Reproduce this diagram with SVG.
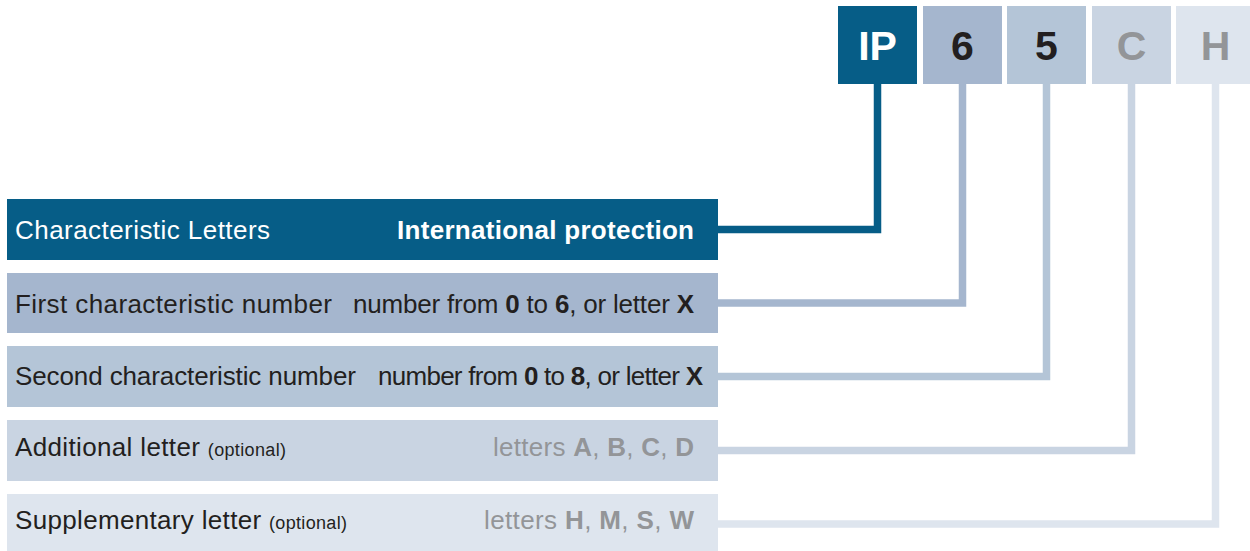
<svg xmlns="http://www.w3.org/2000/svg" width="1250" height="551" viewBox="0 0 1250 551">
<style>
text{font-family:"Liberation Sans",Arial,Helvetica,sans-serif}
.lbl{font-size:26px}
.b{font-weight:bold}
.opt{font-size:18px}
.code{font-size:41px;font-weight:bold;text-anchor:middle}
.r{text-anchor:end}
.dk{fill:#231f20}
.gy{fill:#939598}
.wh{fill:#ffffff}
.c1{fill:#065d87}.c2{fill:#a5b6ce}.c3{fill:#b4c5d7}.c4{fill:#c9d4e2}.c5{fill:#dee5ee}
.ln{fill:none;stroke-width:7.5;stroke-linejoin:miter}
</style>
<rect width="1250" height="551" fill="#ffffff"/>
<g id="connectors">
<path class="ln" stroke="#065d87" d="M718,229.5 H877.5 V84"/>
<path class="ln" stroke="#a5b6ce" d="M718,303 H962.5 V84"/>
<path class="ln" stroke="#b4c5d7" d="M718,376.5 H1046.5 V84"/>
<path class="ln" stroke="#c9d4e2" d="M718,450.5 H1131.5 V84"/>
<path class="ln" stroke="#dee5ee" d="M718,524 H1215.5 V84"/>
</g>
<g id="code-IP"><rect class="c1" x="838" y="6" width="79" height="78"/><text class="code wh" x="877.5" y="60">IP</text></g>
<g id="code-6"><rect class="c2" x="923" y="6" width="79" height="78"/><text class="code dk" x="962.5" y="60">6</text></g>
<g id="code-5"><rect class="c3" x="1007" y="6" width="79" height="78"/><text class="code dk" x="1046.5" y="60">5</text></g>
<g id="code-C"><rect class="c4" x="1092" y="6" width="79" height="78"/><text class="code gy" x="1131.5" y="60">C</text></g>
<g id="code-H"><rect class="c5" x="1176" y="6" width="79" height="78"/><text class="code gy" x="1215.5" y="60">H</text></g>
<g id="row-1"><rect class="c1" x="7" y="199" width="711" height="61"/>
<text class="lbl wh" x="15" y="239" textLength="255" lengthAdjust="spacing">Characteristic Letters</text>
<text class="lbl wh b r" x="694" y="239" textLength="297" lengthAdjust="spacing">International protection</text></g>
<g id="row-2"><rect class="c2" x="7" y="273" width="711" height="60"/>
<text class="lbl dk" x="15" y="313" textLength="317" lengthAdjust="spacing">First characteristic number</text>
<text class="lbl dk r" x="694" y="313" textLength="341" lengthAdjust="spacing">number from <tspan class="b">0</tspan> to <tspan class="b">6</tspan>, or letter <tspan class="b">X</tspan></text></g>
<g id="row-3"><rect class="c3" x="7" y="346" width="711" height="61"/>
<text class="lbl dk" x="15" y="385" textLength="341" lengthAdjust="spacing">Second characteristic number</text>
<text class="lbl dk r" x="703" y="385" textLength="325" lengthAdjust="spacing">number from <tspan class="b">0</tspan> to <tspan class="b">8</tspan>, or letter <tspan class="b">X</tspan></text></g>
<g id="row-4"><rect class="c4" x="7" y="420" width="711" height="61"/>
<text class="lbl dk" x="15" y="456" textLength="271" lengthAdjust="spacing">Additional letter <tspan class="opt">(optional)</tspan></text>
<text class="lbl gy r" x="694" y="456" textLength="201" lengthAdjust="spacing">letters <tspan class="b">A</tspan>, <tspan class="b">B</tspan>, <tspan class="b">C</tspan>, <tspan class="b">D</tspan></text></g>
<g id="row-5"><rect class="c5" x="7" y="494" width="711" height="61"/>
<text class="lbl dk" x="15" y="529" textLength="332" lengthAdjust="spacing">Supplementary letter <tspan class="opt">(optional)</tspan></text>
<text class="lbl gy r" x="694" y="529" textLength="210" lengthAdjust="spacing">letters <tspan class="b">H</tspan>, <tspan class="b">M</tspan>, <tspan class="b">S</tspan>, <tspan class="b">W</tspan></text></g>
</svg>
